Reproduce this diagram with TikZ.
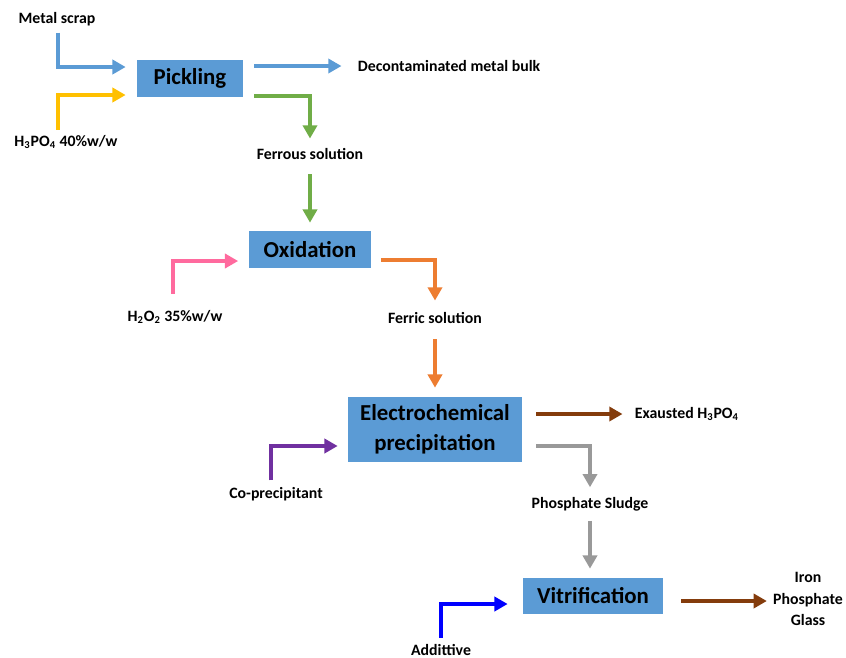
\documentclass[tikz,border=0pt]{standalone}
\usepackage{fontspec}
\setmainfont{Carlito}
\usetikzlibrary{arrows.meta}

\definecolor{boxblue}{HTML}{5B9BD5}
\definecolor{cyel}{HTML}{FFC000}
\definecolor{cgreen}{HTML}{70AD47}
\definecolor{cpink}{HTML}{FF6A9E}
\definecolor{corange}{HTML}{ED7D31}
\definecolor{cbrown}{HTML}{843C0C}
\definecolor{cgray}{HTML}{999999}
\definecolor{cpurple}{HTML}{7030A0}
\definecolor{cblue}{HTML}{0000FF}

\tikzset{
  proc/.style={fill=boxblue, draw=none, font=\fontsize{13}{17}\selectfont\bfseries, align=center},
  lbl/.style={font=\fontsize{9}{12}\selectfont\bfseries, inner sep=2pt, align=center},
  flow/.style={line width=2.2pt, -{Triangle[width=8pt,length=7.5pt]}}
}

\begin{document}
\begin{tikzpicture}[x=0.02cm, y=-0.02cm]
    \useasboundingbox (0,0) rectangle (846,657);
    % process boxes
    \node[proc, minimum width=2.12cm, minimum height=0.74cm] (pick) at (190,78.5) {Pickling};
    \node[proc, minimum width=2.44cm, minimum height=0.74cm] (oxid) at (310,249.5) {Oxidation};
    \node[proc, minimum width=3.48cm, minimum height=1.3cm] (elec) at (435,429.5) {Electrochemical\\precipitation};
    \node[proc, minimum width=2.8cm, minimum height=0.72cm] (vitr) at (593,596) {Vitrification};
    % streams
    \node[lbl] (scrap) at (57,19) {Metal scrap};
    \node[lbl] (acid) at (66,142) {H\textsubscript{3}PO\textsubscript{4} 40\%w/w};
    \node[lbl, anchor=west] (bulk) at (354,66) {Decontaminated metal bulk};
    \node[lbl] (ferrous) at (310,154) {Ferrous solution};
    \node[lbl] (perox) at (175,317) {H\textsubscript{2}O\textsubscript{2} 35\%w/w};
    \node[lbl] (ferric) at (435,318) {Ferric solution};
    \node[lbl, anchor=west] (exh) at (631,414) {Exausted H\textsubscript{3}PO\textsubscript{4}};
    \node[lbl] (coprec) at (276,494) {Co-precipitant};
    \node[lbl] (sludge) at (590,504) {Phosphate Sludge};
    \node[lbl] (addit) at (441,650) {Addittive};
    \node[lbl] (glass) at (808,599) {Iron\\Phosphate\\Glass};

    \draw[flow, boxblue, shorten <=0.06cm, shorten >=0.22cm] ([xshift=0.02cm]scrap.south) |- ([yshift=0.23cm]pick.west);
    \draw[flow, cyel, shorten <=0.04cm, shorten >=0.22cm] ([xshift=-0.16cm]acid.north) |- ([yshift=-0.33cm]pick.west);
    \draw[flow, boxblue, shorten <=0.22cm, shorten >=0.25cm] ([yshift=0.25cm]pick.east) -- ([yshift=0.25cm]pick.east -| bulk.west);
    \draw[flow, cgreen, shorten <=0.22cm, shorten >=0.12cm] ([yshift=-0.35cm]pick.east) -| (ferrous.north);
    \draw[flow, cgreen, shorten <=0.22cm, shorten >=0.16cm] (ferrous.south) -- (oxid.north);
    \draw[flow, cpink, shorten <=0.26cm, shorten >=0.21cm] ([xshift=-0.04cm]perox.north) |- ([yshift=-0.23cm]oxid.west);
    \draw[flow, corange, shorten <=0.19cm, shorten >=0.16cm] ([yshift=-0.21cm]oxid.east) -| (ferric.north);
    \draw[flow, corange, shorten <=0.24cm, shorten >=0.18cm] (ferric.south) -- (elec.north);
    \draw[flow, cbrown, shorten <=0.28cm, shorten >=0.17cm] ([yshift=0.31cm]elec.east) -- ([yshift=0.31cm]elec.east -| exh.west);
    \draw[flow, cgray, shorten <=0.28cm, shorten >=0.12cm] ([yshift=-0.33cm]elec.east) -| (sludge.north);
    \draw[flow, cpurple, shorten <=0.06cm, shorten >=0.2cm] ([xshift=-0.1cm]coprec.north) |- ([yshift=-0.33cm]elec.west);
    \draw[flow, cgray, shorten <=0.12cm, shorten >=0.18cm] (sludge.south) -- (sludge.south |- vitr.north);
    \draw[flow, cblue, shorten <=0.06cm, shorten >=0.3cm] (addit.north) |- ([yshift=-0.16cm]vitr.west);
    \draw[flow, cbrown, shorten <=0.36cm, shorten >=0.05cm] ([yshift=-0.1cm]vitr.east) -- ([yshift=-0.1cm]vitr.east -| glass.west);
\end{tikzpicture}
\end{document}
